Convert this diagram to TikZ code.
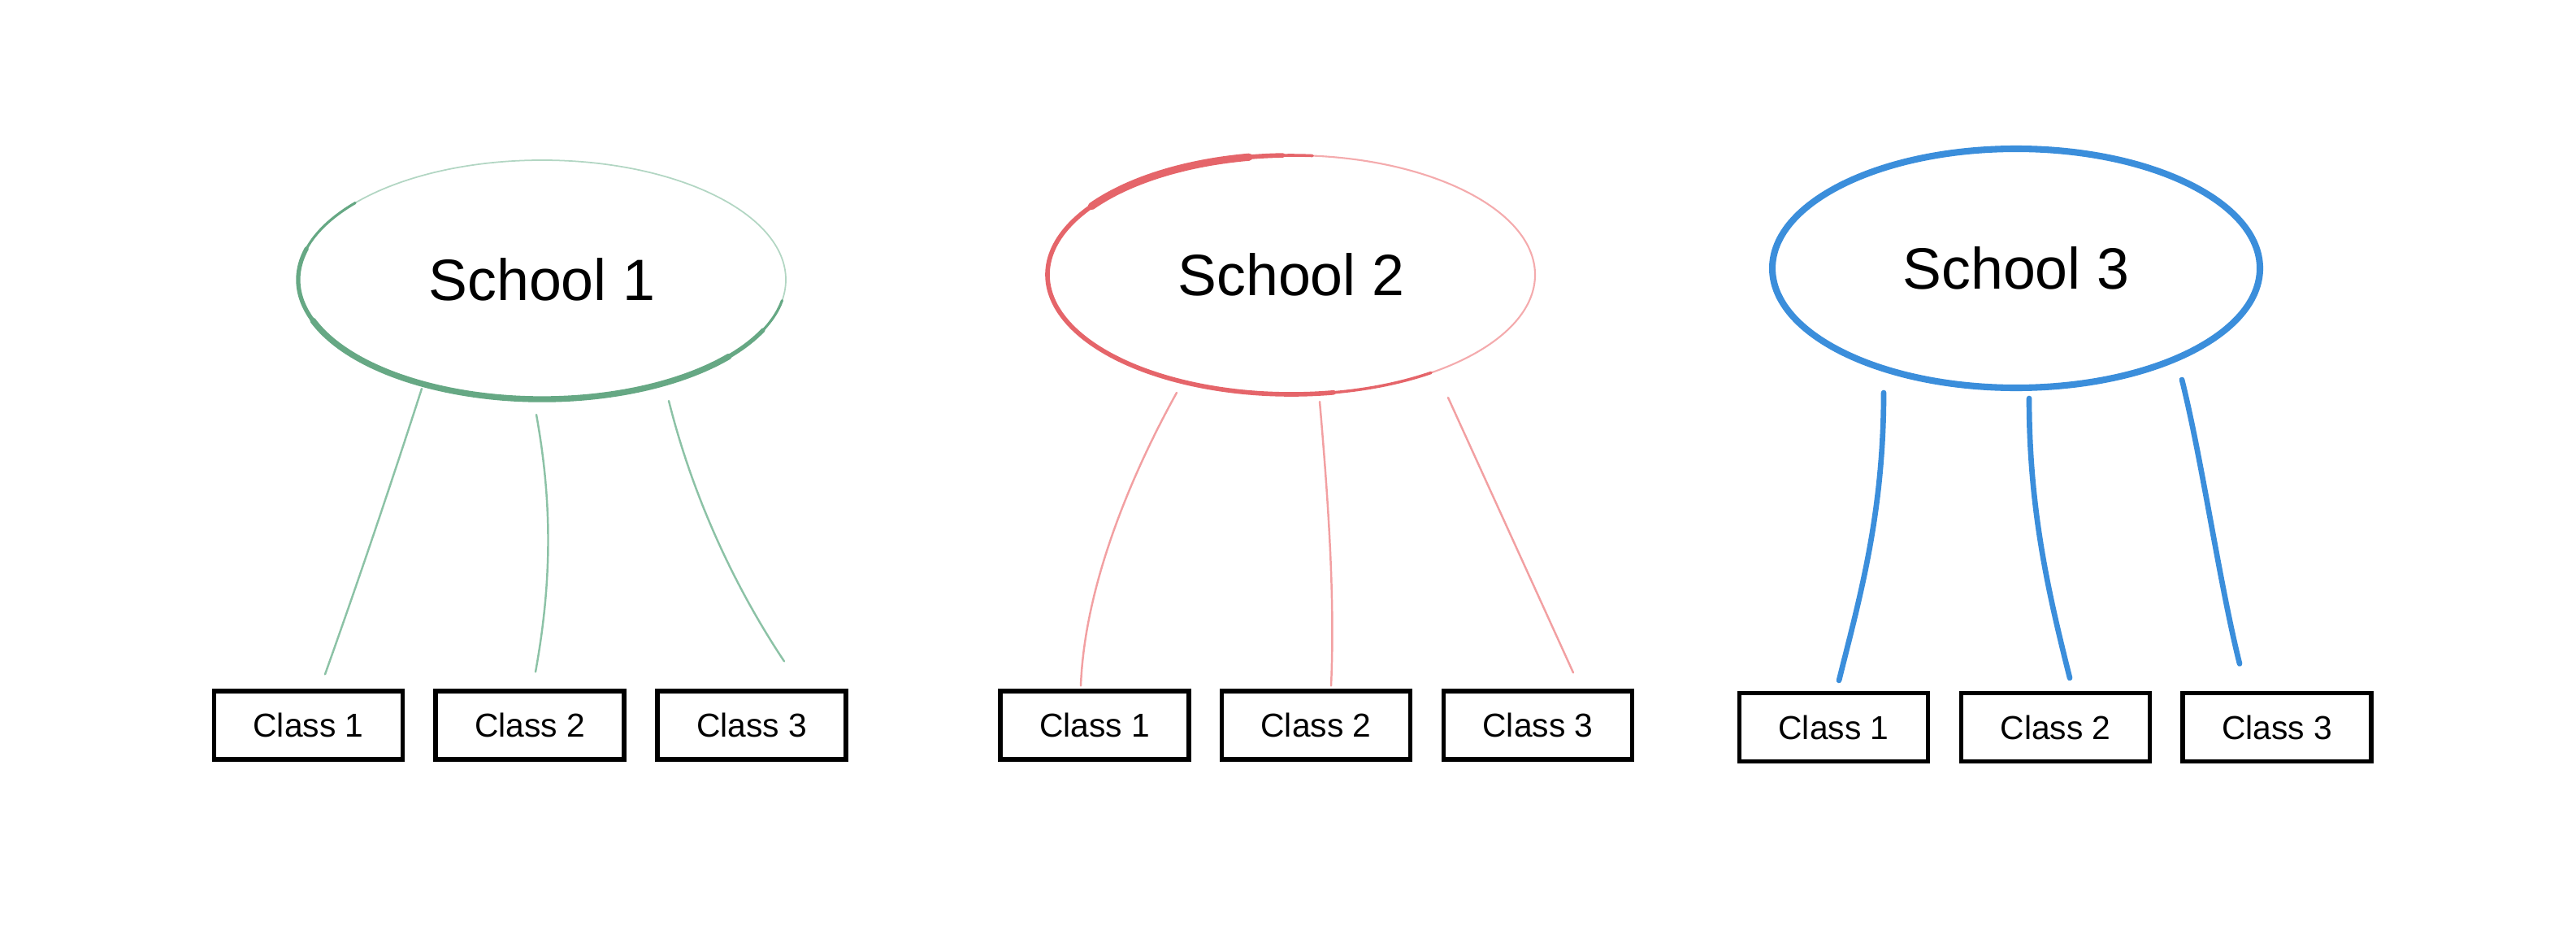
\documentclass[tikz,border=0pt]{standalone}
\usepackage{fontspec}
\setmainfont{Liberation Sans}
\usetikzlibrary{calc,shapes.geometric}
\definecolor{sgreen}{HTML}{66A884}
\definecolor{sgreenlight}{HTML}{B2D6C3}
\definecolor{sgreenline}{HTML}{8CC2A6}
\definecolor{sred}{HTML}{E5656A}
\definecolor{sredlight}{HTML}{F4ABAD}
\definecolor{sredline}{HTML}{F2A0A2}
\definecolor{sblue}{HTML}{3B8EDB}

\begin{document}
\begin{tikzpicture}[line cap=round,
  school/.style={ellipse,minimum width=6.0cm,minimum height=2.94cm,inner sep=0pt,font=\fontsize{20.4}{24}\selectfont},
  classbox/.style={draw=black,line width=1.5pt,minimum width=2.32cm,minimum height=0.84cm,inner sep=0pt,font=\fontsize{11.6}{14}\selectfont},
  gline/.style={sgreenline,line width=0.7pt},
  rline/.style={sredline,line width=0.7pt},
  bline/.style={sblue,line width=1.9pt}]
\useasboundingbox (0,0) rectangle (31.70,-11.49);
\node[school,draw=sgreenlight,line width=0.5pt] (s1) at (6.67,-3.44) {School 1};
\node[school,draw=sredlight,line width=0.6pt] (s2) at (15.89,-3.38) {School 2};
\node[school,draw=sblue,line width=2.3pt] (s3) at (24.81,-3.30) {School 3};
\node[classbox] (c11) at (3.795,-8.92) {Class 1};
\node[classbox] (c12) at (6.52,-8.92) {Class 2};
\node[classbox] (c13) at (9.25,-8.92) {Class 3};
\node[classbox] (c21) at (13.47,-8.92) {Class 1};
\node[classbox] (c22) at (16.195,-8.92) {Class 2};
\node[classbox] (c23) at (18.925,-8.92) {Class 3};
\node[classbox] (c31) at (22.565,-8.945) {Class 1};
\node[classbox] (c32) at (25.295,-8.945) {Class 2};
\node[classbox] (c33) at (28.02,-8.945) {Class 3};
% heavier strokes on the sketched ellipses
\foreach \a/\b/\w in {140/350/0.9pt,165/335/1.5pt,200/320/2.1pt}
  \draw[sgreen,line width=\w] (s1.center) ++(\a:3.0 and 1.47) arc[start angle=\a,end angle=\b,x radius=3.0,y radius=1.47];
\foreach \a/\b/\w in {85/305/1.0pt,92/280/1.6pt,100/145/2.6pt}
  \draw[sred,line width=\w] (s2.center) ++(\a:3.0 and 1.47) arc[start angle=\a,end angle=\b,x radius=3.0,y radius=1.47];
% school 1
\draw[gline] ($(s1.center)+(-1.48,-1.34)$) .. controls +(-0.38,-1.18) and +(0.42,1.18) .. ($(c11.north)+(0.205,0.18)$);
\draw[gline] ($(s1.center)+(-0.07,-1.66)$) .. controls +(0.2,-1.1) and +(0.2,1.1) .. ($(c12.north)+(0.07,0.21)$);
\draw[gline] ($(s1.center)+(1.56,-1.49)$) .. controls +(0.3,-1.2) and +(-0.6,0.9) .. ($(c13.north)+(0.40,0.34)$);
% school 2
\draw[rline] ($(s2.center)+(-1.41,-1.45)$) .. controls +(-0.50,-0.90) and +(0.05,1.3) .. ($(c21.north)+(-0.17,0.04)$);
\draw[rline] ($(s2.center)+(0.35,-1.56)$) .. controls +(0.10,-1.16) and +(0.05,1.1) .. ($(c22.north)+(0.185,0.04)$);
\draw[rline] ($(s2.center)+(1.93,-1.51)$) .. controls +(0.5,-1.1) and +(-0.5,1.1) .. ($(c23.north)+(0.435,0.20)$);
% school 3
\draw[bline] ($(s3.center)+(-1.63,-1.53)$) .. controls +(0,-1.5) and +(0.25,1.0) .. ($(c31.north)+(0.065,0.13)$);
\draw[bline] ($(s3.center)+(0.16,-1.60)$) .. controls +(0,-1.4) and +(-0.25,1.0) .. ($(c32.north)+(0.175,0.16)$);
\draw[bline] ($(s3.center)+(2.04,-1.37)$) .. controls +(0.25,-1.0) and +(-0.25,1.0) .. ($(c33.north)+(-0.46,0.335)$);
\end{tikzpicture}
\end{document}
